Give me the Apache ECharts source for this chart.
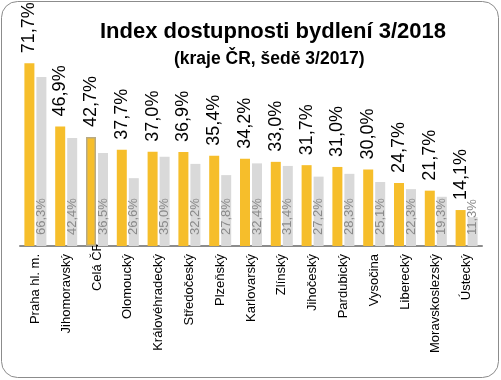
<!DOCTYPE html>
<html>
<head>
<meta charset="utf-8">
<script src="https://cdn.jsdelivr.net/npm/echarts@6/dist/echarts.min.js"></script>
<style>
html,body{margin:0;padding:0;background:#fff;}
#c{width:501px;height:380px;}
</style>
</head>
<body>
<div id="c"></div>
<script>
var categories = ['Praha hl. m.', 'Jihomoravský', 'Celá ČR', 'Olomoucký', 'Královéhradecký', 'Středočeský', 'Plzeňský', 'Karlovarský', 'Zlínský', 'Jihočeský', 'Pardubický', 'Vysočina', 'Liberecký', 'Moravskoslezský', 'Ústecký'];
var values2018 = [71.7, 46.9, 42.7, 37.7, 37.0, 36.9, 35.4, 34.2, 33.0, 31.7, 31.0, 30.0, 24.7, 21.7, 14.1];
var values2017 = [66.3, 42.4, 36.5, 26.6, 35.0, 32.2, 27.8, 32.4, 31.4, 27.2, 28.3, 25.1, 22.3, 19.3, 11.3];
var highlightCategory = 'Celá ČR';
var titleText = 'Index dostupnosti bydlení 3/2018';
var subtitleText = '(kraje ČR, šedě 3/2017)';

var FONT = '"Liberation Sans", Arial, Helvetica, sans-serif';
function fmt(p) { return p.value.toFixed(1).replace('.', ',') + '%'; }

var axisData = categories.map(function (c) {
  return c === highlightCategory ? {value: c, textStyle: {padding: [0, -12, 0, 0]}} : c;
});
var data2018 = values2018.map(function (v, i) {
  return categories[i] === highlightCategory
    ? {value: v, itemStyle: {borderColor: '#B8AA84', borderWidth: 1.5}}
    : v;
});

var chart = echarts.init(document.getElementById('c'), null, {renderer: 'canvas'});
chart.setOption({
  animation: false,
  backgroundColor: '#fff',
  title: [
    {text: titleText, left: 95, top: 16,
     textStyle: {fontFamily: FONT, fontSize: 22, fontWeight: 'bold', color: '#000'}},
    {text: subtitleText, left: 169, top: 45,
     textStyle: {fontFamily: FONT, fontSize: 17.5, fontWeight: 'bold', color: '#000'}}
  ],
  graphic: [{
    type: 'rect', silent: true, z: -1,
    shape: {x: 1.5, y: 1.5, width: 497, height: 376, r: 16},
    style: {fill: 'none', stroke: '#8c8c8c', lineWidth: 1}
  }],
  grid: {left: 20, right: 19, top: 42, bottom: 134, containLabel: false},
  xAxis: {
    type: 'category',
    data: axisData,
    axisLine: {show: true, lineStyle: {color: '#8c8c8c', width: 2}},
    axisTick: {show: false},
    axisLabel: {rotate: 90, margin: 8, interval: 0, fontFamily: FONT, fontSize: 13, color: '#000'}
  },
  yAxis: {
    type: 'value', min: 0, max: 80, show: false,
    splitLine: {show: false}
  },
  series: [
    {
      name: '3/2018', type: 'bar', data: data2018,
      barWidth: 10, barGap: '20%',
      itemStyle: {color: '#F6BE2B'},
      label: {show: true, position: 'top', rotate: 90, align: 'left', verticalAlign: 'middle',
              distance: 10, formatter: fmt, fontFamily: FONT, fontSize: 18, color: '#000'}
    },
    {
      name: '3/2017', type: 'bar', data: values2017,
      barWidth: 10, barGap: '20%',
      itemStyle: {color: '#D9D9D9'},
      label: {show: true, position: 'insideBottom', rotate: 90, align: 'left', verticalAlign: 'middle',
              distance: 11, formatter: fmt, fontFamily: FONT, fontSize: 13, color: '#8a8a8a'}
    }
  ]
});
</script>
</body>
</html>
